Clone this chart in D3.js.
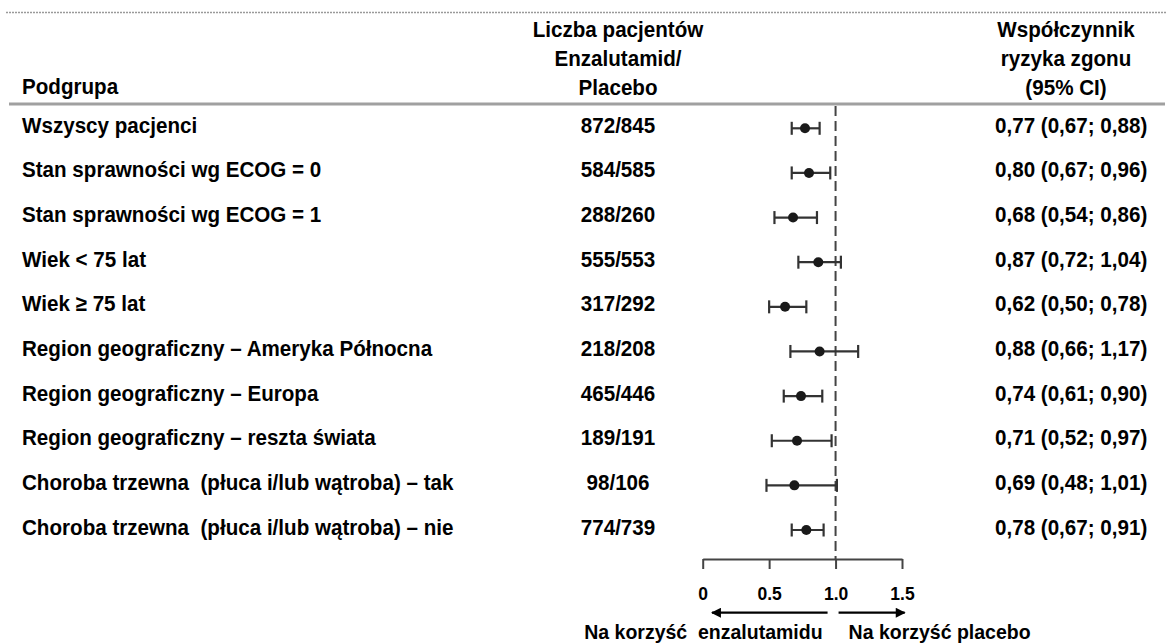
<!DOCTYPE html>
<html>
<head>
<meta charset="utf-8">
<script src="https://cdn.jsdelivr.net/npm/d3@7"></script>
<style>
  body { margin: 0; background: #fff; }
  svg text { font-family: "Liberation Sans", Arial, sans-serif; font-weight: bold; fill: #000; white-space: pre; }
</style>
</head>
<body>
<div id="chart"></div>
<script>
// forest plot data
var subgroups = [
    "Wszyscy pacjenci",
    "Stan sprawności wg ECOG = 0",
    "Stan sprawności wg ECOG = 1",
    "Wiek < 75 lat",
    "Wiek ≥ 75 lat",
    "Region geograficzny – Ameryka Północna",
    "Region geograficzny – Europa",
    "Region geograficzny – reszta świata",
    "Choroba trzewna  (płuca i/lub wątroba) – tak",
    "Choroba trzewna  (płuca i/lub wątroba) – nie"
];
var patients = ["872/845", "584/585", "288/260", "555/553", "317/292", "218/208", "465/446", "189/191", "98/106", "774/739"];
var hazardRatio = [0.77, 0.80, 0.68, 0.87, 0.62, 0.88, 0.74, 0.71, 0.69, 0.78];
var ciLow = [0.67, 0.67, 0.54, 0.72, 0.50, 0.66, 0.61, 0.52, 0.48, 0.67];
var ciHigh = [0.88, 0.96, 0.86, 1.04, 0.78, 1.17, 0.90, 0.97, 1.01, 0.91];
var axisTicks = [0, 0.5, 1.0, 1.5];

var headerLeft = ["Podgrupa"];
var headerMid = ["Liczba pacjentów", "Enzalutamid/", "Placebo"];
var headerRight = ["Współczynnik", "ryzyka zgonu", "(95% CI)"];
var arrowLabels = ["Na korzyść  enzalutamidu", "Na korzyść placebo"];

var width = 1167, height = 644;
var midX = 618, rightX = 995, labelX = 22;
var firstRow = 128.3, lastRow = 530;
var axisY = 559;
var rowSize = 20.6;
var scaleY = 1.07;   // the original lettering is a bit taller than regular Arial

var svg = d3.select("#chart").append("svg")
    .attr("width", width)
    .attr("height", height);

// text helper, stretched vertically a little
function label(parent, xPos, yPos, str, size, anchor) {
    var g = parent.append("g")
        .attr("transform", "translate(" + xPos + "," + yPos + ") scale(1," + scaleY + ")");
    g.append("text")
        .style("font-size", size + "px")
        .style("text-anchor", anchor || "start")
        .text(str);
    return g;
}

var x = d3.scaleLinear()
    .domain([0, 1.5])
    .range([702.7, 902]);

var y = d3.scalePoint()
    .domain(d3.range(subgroups.length))
    .range([firstRow, lastRow]);

var fmt = d3.format(".2f");
function comma(v) { return fmt(v).replace(".", ","); }

// top dotted rule
svg.append("line")
    .attr("x1", 6).attr("x2", width)
    .attr("y1", 12.5).attr("y2", 12.5)
    .style("stroke", "#9a9a9a")
    .style("stroke-width", 1.5)
    .style("stroke-dasharray", "2,1");

// header rule
svg.append("line")
    .attr("x1", 9).attr("x2", width - 2)
    .attr("y1", 104).attr("y2", 104)
    .style("stroke", "#a0a0a0")
    .style("stroke-width", 3);

// headers
label(svg, labelX, 94, headerLeft[0], rowSize);
headerMid.forEach((d, i) => label(svg, midX, 37 + i * 29, d, rowSize, "middle"));
headerRight.forEach((d, i) => label(svg, 1066, 37 + i * 29, d, rowSize, "middle"));

// row texts
subgroups.forEach(function(d, i) {
    var base = y(i) + 4.5;
    label(svg, labelX, base, d, rowSize);
    label(svg, midX, base, patients[i], rowSize, "middle");
    label(svg, rightX, base,
        comma(hazardRatio[i]) + " (" + comma(ciLow[i]) + "; " + comma(ciHigh[i]) + ")", rowSize);
});

// reference line at HR = 1
svg.append("line")
    .attr("x1", x(1)).attr("x2", x(1))
    .attr("y1", 106).attr("y2", axisY)
    .style("stroke", "#444")
    .style("stroke-width", 2)
    .style("stroke-dasharray", "10,5");

// confidence intervals
var ci = svg.selectAll(".ci")
    .data(subgroups)
    .enter().append("g")
    .attr("class", "ci")
    .style("stroke", "#333")
    .style("stroke-width", 2.2);

ci.append("line")
    .attr("x1", (d, i) => x(ciLow[i]))
    .attr("x2", (d, i) => x(ciHigh[i]))
    .attr("y1", (d, i) => y(i))
    .attr("y2", (d, i) => y(i));

ci.append("line")
    .attr("x1", (d, i) => x(ciLow[i]))
    .attr("x2", (d, i) => x(ciLow[i]))
    .attr("y1", (d, i) => y(i) - 6.5)
    .attr("y2", (d, i) => y(i) + 6.5);

ci.append("line")
    .attr("x1", (d, i) => x(ciHigh[i]))
    .attr("x2", (d, i) => x(ciHigh[i]))
    .attr("y1", (d, i) => y(i) - 6.5)
    .attr("y2", (d, i) => y(i) + 6.5);

svg.selectAll(".hr")
    .data(hazardRatio)
    .enter().append("circle")
    .attr("class", "hr")
    .attr("cx", d => x(d))
    .attr("cy", (d, i) => y(i))
    .attr("r", 5)
    .style("fill", "#1a1a1a");

// axis
var xAxis = d3.axisBottom(x)
    .tickValues(axisTicks)
    .tickSize(10)
    .tickSizeOuter(0)
    .tickFormat(d => d === 0 ? "0" : d3.format(".1f")(d));

var gx = svg.append("g")
    .attr("transform", "translate(0," + axisY + ")")
    .call(xAxis);

gx.select(".domain").style("stroke", "#444").style("stroke-width", 2);
gx.selectAll(".tick line").style("stroke", "#444").style("stroke-width", 2);
gx.selectAll(".tick text")
    .attr("y", 0)
    .attr("dy", null)
    .attr("transform", "translate(0,41) scale(1," + scaleY + ")")
    .style("font-family", "'Liberation Sans', Arial, sans-serif")
    .style("font-weight", "bold")
    .style("font-size", "17.5px")
    .style("fill", "#000");

// arrows
var defs = svg.append("defs");
defs.append("marker")
    .attr("id", "arrowhead")
    .attr("viewBox", "0 0 10 10")
    .attr("refX", 9).attr("refY", 5)
    .attr("markerWidth", 5).attr("markerHeight", 4.5)
    .attr("orient", "auto")
    .append("path")
    .attr("d", "M0,0 L10,5 L0,10 z")
    .style("fill", "#000");

var arrowY = 612.7;
svg.append("line")
    .attr("x1", x(1) - 8).attr("x2", x(0.07))
    .attr("y1", arrowY).attr("y2", arrowY)
    .style("stroke", "#000").style("stroke-width", 2.2)
    .attr("marker-end", "url(#arrowhead)");

svg.append("line")
    .attr("x1", x(1) + 3).attr("x2", x(1.52))
    .attr("y1", arrowY).attr("y2", arrowY)
    .style("stroke", "#000").style("stroke-width", 2.2)
    .attr("marker-end", "url(#arrowhead)");

label(svg, x(1) - 13, 639, arrowLabels[0], 19.5, "end");
label(svg, x(1) + 13, 639, arrowLabels[1], 19.5);
</script>
</body>
</html>
